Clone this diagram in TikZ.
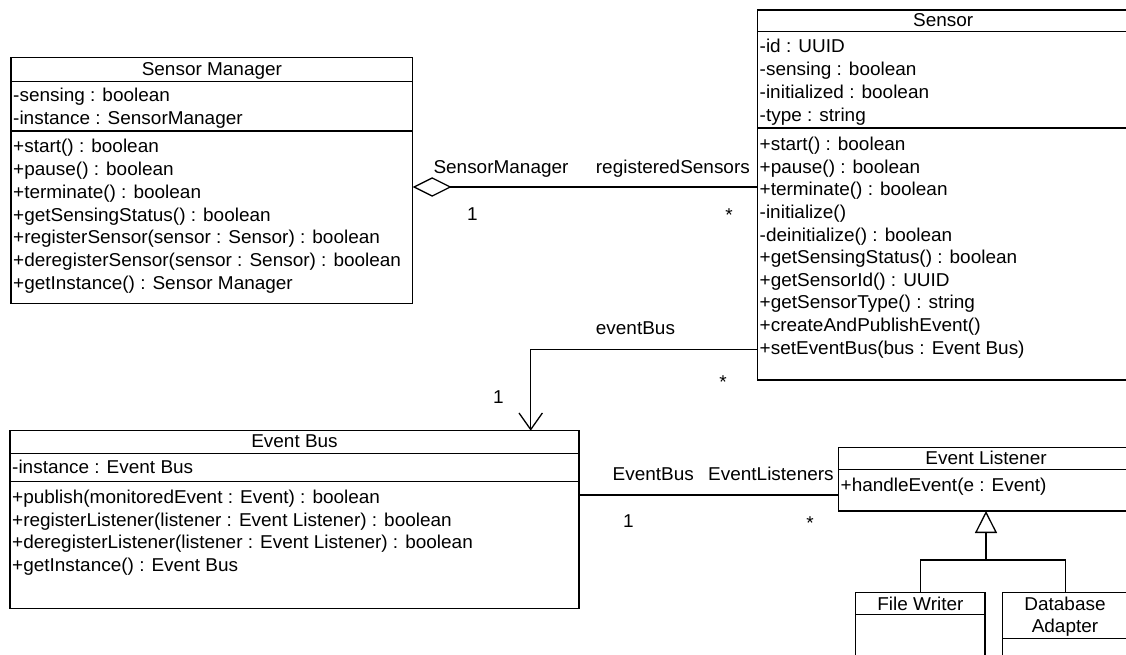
\documentclass[tikz,border=0pt]{standalone}
\usepackage{fontspec}
\setmainfont{Liberation Sans}[FakeStretch=1.02]
\usetikzlibrary{arrows.meta}

\newcommand\umlfont{\fontsize{18.6}{22.7}\selectfont}

\tikzset{
  classbox/.style={draw, line width=1.3pt, anchor=north west, inner sep=0pt, outer sep=0pt},
  member/.style={anchor=base west, inner sep=0pt, font=\umlfont},
  classname/.style={anchor=base, inner sep=0pt, font=\umlfont},
  rolelabel/.style={anchor=base west, inner sep=0pt, font=\umlfont},
  multstar/.style={anchor=base, inner sep=0pt, font=\umlfont},
  conn/.style={line width=1.3pt},
  sep/.style={line width=1.3pt},
}

\begin{document}
\begin{tikzpicture}[x=1pt,y=-1pt]
\useasboundingbox (0,0) rectangle (1126,655);
\clip (0,0) rectangle (1126,655);
\fill[white] (0,0) rectangle (1126,655);

% ---------- Sensor Manager ----------
\node[classbox, minimum width=401.7pt, minimum height=246pt] (sm) at (11,57.3) {};
\coordinate (smh) at (0,81.7);
\coordinate (sms) at (0,131);
\draw[sep] (sm.west |- smh) -- (sm.east |- smh);
\draw[sep] (sm.west |- sms) -- (sm.east |- sms);
\node[classname] (smtitle) at (211.9,76) {Sensor Manager};
\foreach \t [count=\i from 0] in {{-sensing : boolean},{-instance : SensorManager}}
  \node[member] (sma\i) at (13,101.7+22.7*\i) {\t};
\foreach \t [count=\i from 0] in {{+start() : boolean},{+pause() : boolean},{+terminate() : boolean},{+getSensingStatus() : boolean},{+registerSensor(sensor : Sensor) : boolean},{+deregisterSensor(sensor : Sensor) : boolean},{+getInstance() : Sensor Manager}}
  \node[member] (smm\i) at (13,153+22.7*\i) {\t};

% ---------- Sensor ----------
\node[classbox, minimum width=371.7pt, minimum height=370pt] (sensor) at (757.3,10) {};
\coordinate (seh) at (0,31.7);
\coordinate (ses) at (0,128);
\draw[sep] (sensor.west |- seh) -- (sensor.east |- seh);
\draw[sep] (sensor.west |- ses) -- (sensor.east |- ses);
\node[classname] (setitle) at (943.2,26.7) {Sensor};
\foreach \t [count=\i from 0] in {{-id : UUID},{-sensing : boolean},{-initialized : boolean},{-type : string}}
  \node[member] (sea\i) at (759.5,53+22.7*\i) {\t};
\foreach \t [count=\i from 0] in {{+start() : boolean},{+pause() : boolean},{+terminate() : boolean},{-initialize()},{-deinitialize() : boolean},{+getSensingStatus() : boolean},{+getSensorId() : UUID},{+getSensorType() : string},{+createAndPublishEvent()},{+setEventBus(bus : Event Bus)}}
  \node[member] (sem\i) at (759.5,150.7+22.6*\i) {\t};

% ---------- Event Bus ----------
\node[classbox, minimum width=569pt, minimum height=177.6pt] (eb) at (10,430.7) {};
\coordinate (ebh) at (0,453.3);
\coordinate (ebs) at (0,481.7);
\draw[sep] (eb.west |- ebh) -- (eb.east |- ebh);
\draw[sep] (eb.west |- ebs) -- (eb.east |- ebs);
\node[classname] (ebtitle) at (294.5,447.5) {Event Bus};
\node[member] (eba0) at (12,473.3) {-instance : Event Bus};
\foreach \t [count=\i from 0] in {{+publish(monitoredEvent : Event) : boolean},{+registerListener(listener : Event Listener) : boolean},{+deregisterListener(listener : Event Listener) : boolean},{+getInstance() : Event Bus}}
  \node[member] (ebm\i) at (12,503.5+22.7*\i) {\t};

% ---------- Event Listener ----------
\node[classbox, minimum width=295pt, minimum height=63.7pt] (el) at (838.5,447.3) {};
\coordinate (elh) at (0,469.3);
\draw[sep] (el.west |- elh) -- (el.east |- elh);
\node[classname] (eltitle) at (986,464) {Event Listener};
\node[member] (elm0) at (840.5,491.5) {+handleEvent(e : Event)};

% ---------- File Writer ----------
\node[classbox, minimum width=129.3pt, minimum height=80pt] (fw) at (855.7,592.7) {};
\coordinate (fwh) at (0,614.5);
\draw[sep] (fw.west |- fwh) -- (fw.east |- fwh);
\node[classname] (fwtitle) at (920.4,610) {File Writer};

% ---------- Database Adapter ----------
\node[classbox, minimum width=125.7pt, minimum height=80pt] (db) at (1002.3,592.7) {};
\coordinate (dbh) at (0,638.3);
\draw[sep] (db.west |- dbh) -- (db.east |- dbh);
\node[classname] (dbtitle1) at (1065,610) {Database};
\node[classname] (dbtitle2) at (1065,632) {Adapter};

% ---------- Sensor Manager <>-- Sensor ----------
\coordinate (agg) at (0,187);
\draw[conn, {Diamond[open, length=39pt, width=19.5pt]}-] (sm.east |- agg) -- (sensor.west |- agg);
\node[rolelabel] (lsm) at (433.3,173.3) {SensorManager};
\node[rolelabel] (lrs) at (595.7,173.3) {registeredSensors};
\node[rolelabel] (lsm1) at (467,220) {1};
\node[multstar] (lrsn) at (729,221) {*};

% ---------- Sensor --> Event Bus ----------
\coordinate (busy) at (0,349.3);
\coordinate (busx) at (530.7,0);
\draw[conn, -{Straight Barb[length=16.6pt, width=23.4pt]}] (sensor.west |- busy) -| (eb.north -| busx);
\node[rolelabel] (leb) at (595.7,334.3) {eventBus};
\node[multstar] (lebn) at (723,388) {*};
\node[rolelabel] (leb1) at (493,403.3) {1};

% ---------- Event Bus -- Event Listener ----------
\coordinate (lisy) at (0,495);
\draw[conn] (eb.east |- lisy) -- (el.west |- lisy);
\node[rolelabel] (lbus) at (612.5,480) {EventBus};
\node[rolelabel] (llis) at (708,480) {EventListeners};
\node[rolelabel] (lbus1) at (623,527) {1};
\node[multstar] (llisn) at (810,529.5) {*};

% ---------- generalization ----------
\coordinate (gj) at (986,560);
\draw[conn] (fw.north) |- (gj) -| (db.north);
\draw[conn, -{Triangle[open, length=22pt, width=22pt]}] (gj) -- (gj |- el.south);
\end{tikzpicture}
\end{document}
